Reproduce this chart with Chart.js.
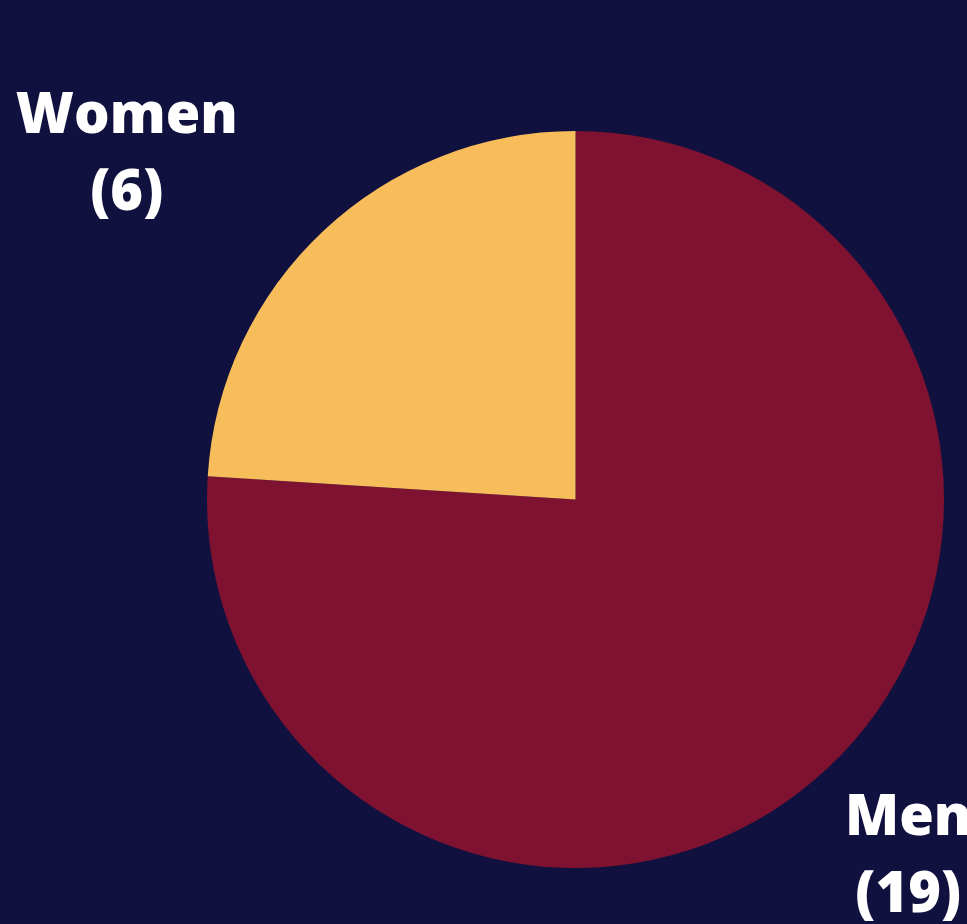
<!DOCTYPE html>
<html>
<head>
<meta charset="utf-8">
<script src="https://cdn.jsdelivr.net/npm/chart.js"></script>
<style>
  html, body { margin: 0; padding: 0; background: #10113f; }
  #wrap { width: 967px; height: 924px; }
</style>
</head>
<body>
<div id="wrap"><canvas id="chart"></canvas></div>
<script>
// данные
var categories = ['Men', 'Women'];
var counts = [19, 6];
var colors = ['#7e1230', '#f7bd5b'];

// подписи секторов: "Имя (число)" в две строки снаружи круга
var outsideLabels = {
  id: 'outsideLabels',
  afterDraw: function(chart, args, opts) {
    var ctx = chart.ctx;
    var meta = chart.getDatasetMeta(0);
    var size = opts.fontSize;
    var capH = size * 0.714;
    ctx.save();
    ctx.font = '800 ' + size + 'px "Open Sans"';
    ctx.fillStyle = '#ffffff';
    ctx.textAlign = 'center';
    ctx.textBaseline = 'alphabetic';
    meta.data.forEach(function(arc, i) {
      var p = arc.getProps(['x', 'y', 'startAngle', 'endAngle', 'outerRadius'], true);
      var mid = (p.startAngle + p.endAngle) / 2;
      var off = opts.offsets[i] || [0, 0];
      var cx = p.x + Math.cos(mid) * p.outerRadius * opts.distance + off[0];
      var cy = p.y + Math.sin(mid) * p.outerRadius * opts.distance + off[1];
      var lines = [categories[i], '(' + counts[i] + ')'];
      lines.forEach(function(t, j) {
        ctx.fillText(t, cx, cy + capH / 2 + (j - 0.5) * opts.lineGap);
      });
    });
    ctx.restore();
  }
};

var ctx = document.getElementById('chart').getContext('2d');
var chart = new Chart(ctx, {
  type: 'pie',
  data: {
    labels: categories,
    datasets: [{
      data: counts,
      backgroundColor: colors,
      borderWidth: 0
    }]
  },
  options: {
    responsive: true,
    maintainAspectRatio: false,
    animation: false,
    layout: { padding: { left: 207, top: 131, right: 23, bottom: 56 } },
    plugins: {
      legend: { display: false },
      tooltip: { enabled: false },
      outsideLabels: {
        fontSize: 56,
        lineGap: 77,
        distance: 1.319,
        offsets: [[0, 0], [-116, 6]]
      }
    }
  },
  plugins: [outsideLabels]
});
</script>
</body>
</html>
